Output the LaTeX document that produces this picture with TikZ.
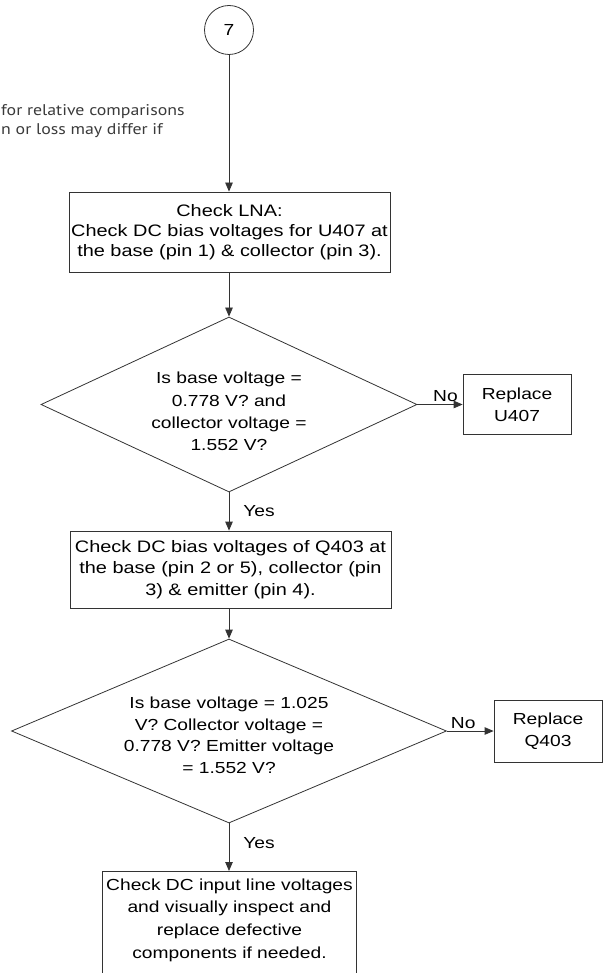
\documentclass[tikz,border=0pt]{standalone}
\usepackage{fontspec}
\setmainfont{Liberation Sans}[FakeStretch=1.2]
\newfontfamily\notefont{PT Sans}[FakeStretch=1.15]
\usetikzlibrary{arrows.meta, positioning, shapes.geometric}
\definecolor{fline}{HTML}{333333}
\definecolor{fnote}{HTML}{3A3A3A}

\begin{document}
\begin{tikzpicture}[x=1pt, y=-1pt,
  every node/.style={font=\fontsize{16}{22.3}\selectfont, text=black},
  stepbox/.style={draw=fline, line width=0.8pt, align=center, inner sep=0pt},
  decide/.style={draw=fline, line width=0.8pt, diamond, align=center, inner sep=0pt},
  flow/.style={draw=fline, line width=0.8pt, -{Triangle[length=9pt, width=7.5pt]}},
  tag/.style={font=\fontsize{16}{18}\selectfont, inner sep=2pt}]
\useasboundingbox (0,0) rectangle (603,973);
\clip (0,0) rectangle (603,973);
% cut-off note on the left
\node[font=\notefont\fontsize{15.5}{18.5}\selectfont, text=fnote, align=left, anchor=west, inner sep=0pt]
  (note) at (1,121) {for relative comparisons\\n or loss may differ if};
% main column
\node[circle, draw=fline, line width=0.8pt, minimum size=49pt, inner sep=0pt] (c7) at (229,30) {7};
\node[stepbox, minimum width=321, minimum height=80, font=\fontsize{16.6}{20}\selectfont]
  (lna) at (229.5,232) {Check LNA:\\Check DC bias voltages for U407 at\\the base (pin 1) \& collector (pin 3).};
\node[decide, aspect=2.15, minimum width=376, minimum height=175]
  (d1) at (229,404.5) {\rule{0pt}{26pt}Is base voltage =\\0.778 V? and\\collector voltage =\\1.552 V?};
\node[stepbox, minimum width=108, minimum height=60]
  (rep1) at (517,404.5) {Replace\\U407};
\node[stepbox, minimum width=321, minimum height=77, font=\fontsize{16.6}{21.7}\selectfont]
  (q403) at (230.5,569.5) {Check DC bias voltages of Q403 at\\the base (pin 2 or 5), collector (pin\\3) \& emitter (pin 4).};
\node[decide, aspect=2.36, minimum width=435, minimum height=184, font=\fontsize{16}{21.7}\selectfont]
  (d2) at (229,731) {\rule{0pt}{20pt}Is base voltage = 1.025\\V? Collector voltage =\\0.778 V? Emitter voltage\\= 1.552 V?};
\node[stepbox, minimum width=108, minimum height=62]
  (rep2) at (548,731) {Replace\\Q403};
\node[stepbox, anchor=north, minimum width=254, inner ysep=7pt, text depth=40pt, font=\fontsize{16}{22.7}\selectfont]
  (inp) at (229.5,871) {Check DC input line voltages\\and visually inspect and\\replace defective\\components if needed.};
% connectors
\draw[flow] (c7) -- (c7 |- lna.north);
\draw[flow] (c7 |- lna.south) -- (d1);
\draw[flow] (d1.east) -- node[tag, above, pos=0.62] (no1) {No} (rep1.west);
\draw[flow] (d1) -- node[tag, right=12pt, pos=0.5] (yes1) {Yes} (d1 |- q403.north);
\draw[flow] (d1 |- q403.south) -- (d2);
\draw[flow] (d2.east) -- node[tag, above, pos=0.35] (no2) {No} (rep2.west);
\draw[flow] (d2) -- node[tag, right=12pt, pos=0.42] (yes2) {Yes} (d2 |- inp.north);
\end{tikzpicture}
\end{document}
